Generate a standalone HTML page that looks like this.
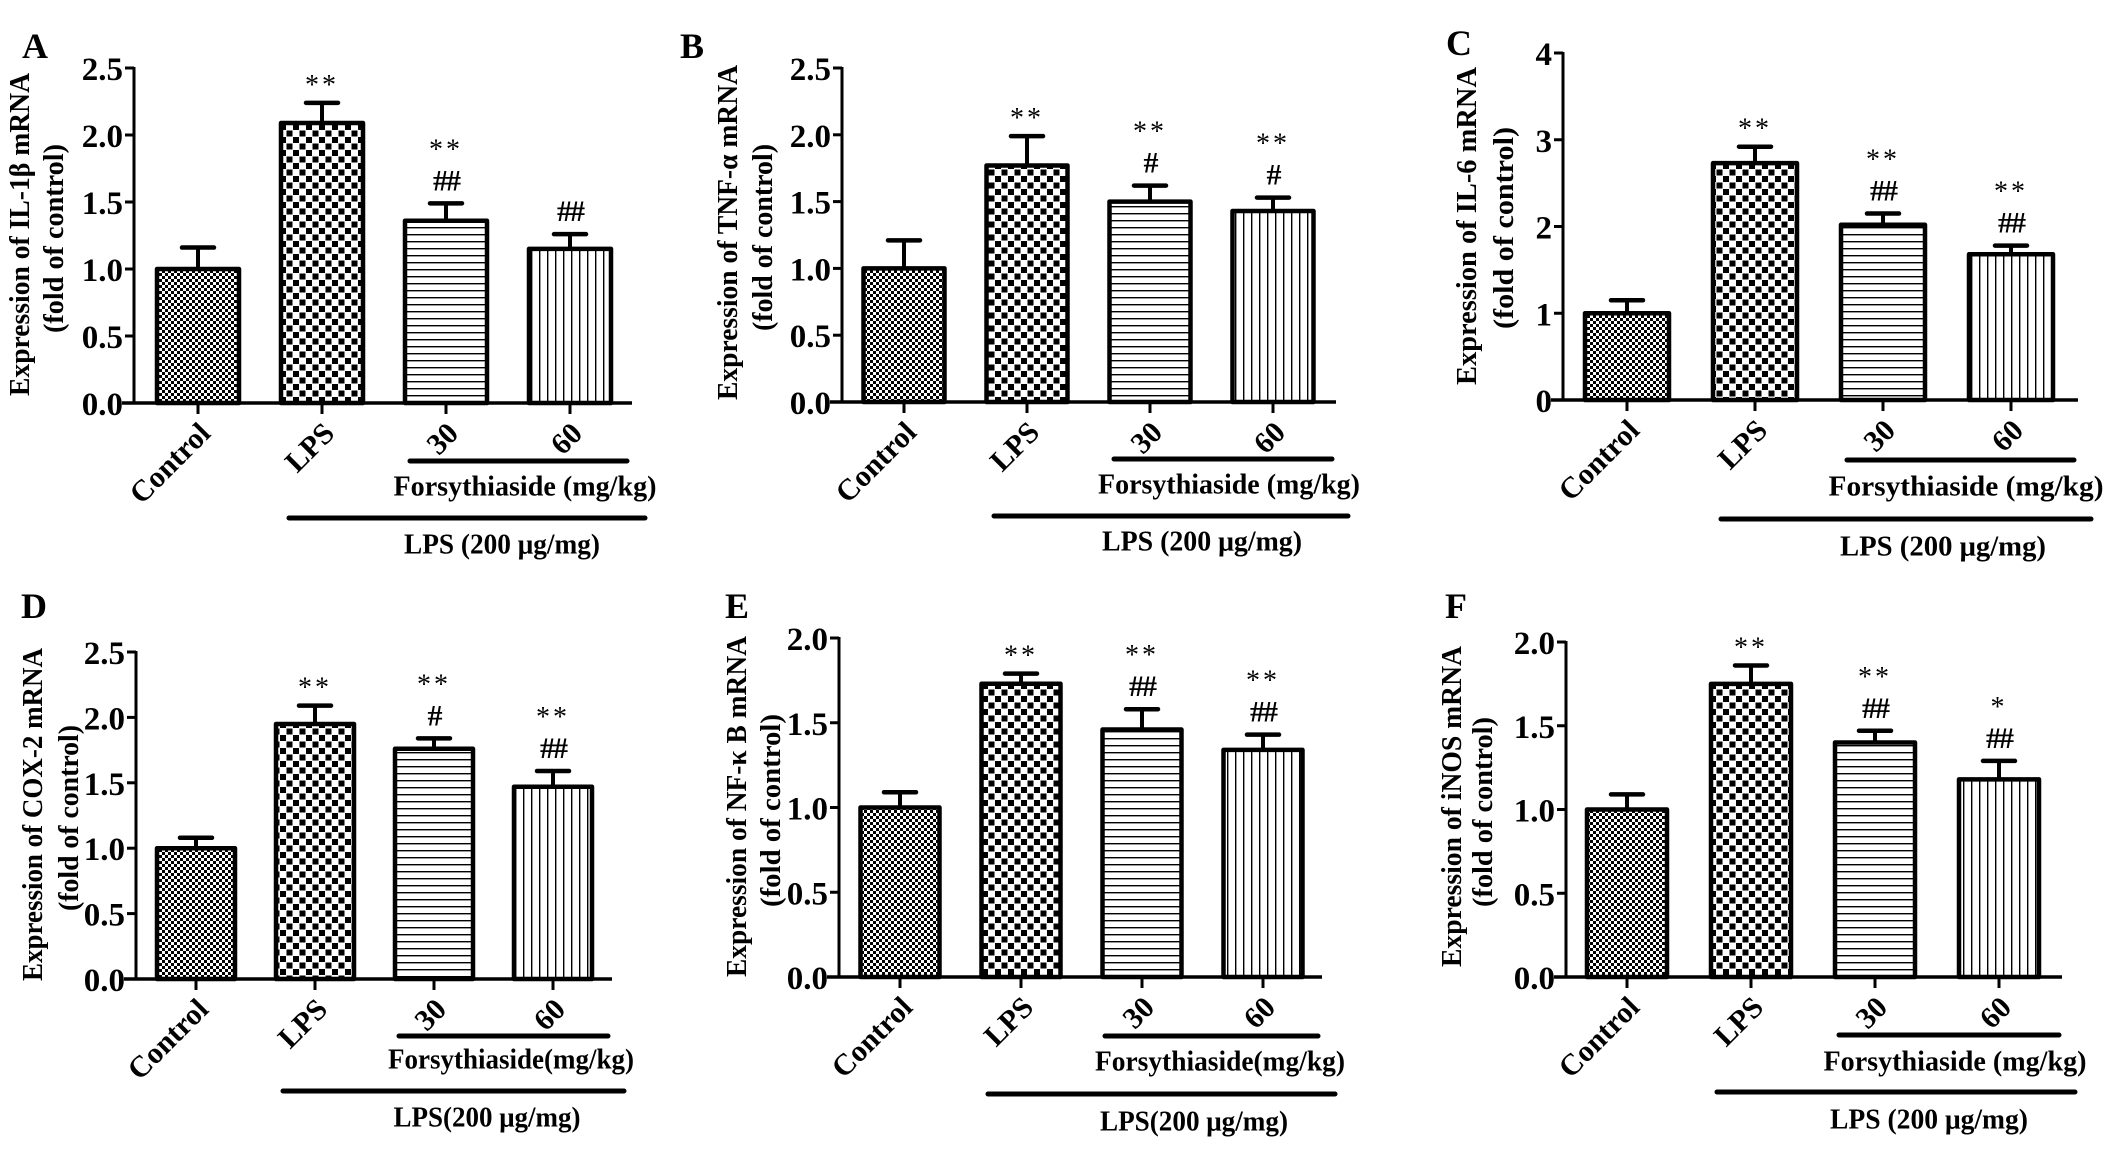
<!DOCTYPE html>
<html><head><meta charset="utf-8">
<style>
html,body{margin:0;padding:0;background:#fff;}
svg{display:block;font-family:"Liberation Serif","DejaVu Serif",serif;font-weight:bold;}
</style></head>
<body>
<svg id="fig" width="2126" height="1170" viewBox="0 0 2126 1170" xmlns="http://www.w3.org/2000/svg">
<defs>
<pattern id="pFine" patternUnits="userSpaceOnUse" width="6" height="6"><rect width="6" height="6" fill="#fff"/><rect width="3" height="3" fill="#000"/><rect x="3" y="3" width="3" height="3" fill="#000"/></pattern>
<pattern id="pCoarse" patternUnits="userSpaceOnUse" width="13" height="13"><rect width="13" height="13" fill="#fff"/><rect x="0.5" y="0.5" width="6" height="6" fill="#000"/><rect x="7" y="7" width="6" height="6" fill="#000"/></pattern>
<pattern id="pH" patternUnits="userSpaceOnUse" width="8" height="7"><rect width="8" height="7" fill="#fff"/><rect y="3" width="8" height="1.4" fill="#000"/></pattern>
<pattern id="pV" patternUnits="userSpaceOnUse" width="8" height="8"><rect width="8" height="8" fill="#fff"/><rect x="3" width="1.4" height="8" fill="#000"/></pattern>
</defs>
</svg>
<script>
const categories = ["Control","LPS","30","60"];
const valuesA = [1.00, 2.09, 1.36, 1.15];
const errorsA = [1.16, 2.24, 1.49, 1.26];
const annotA = [[], ["**"], ["**","##"], ["##"]];
const valuesB = [1.00, 1.77, 1.50, 1.43];
const errorsB = [1.21, 1.99, 1.62, 1.53];
const annotB = [[], ["**"], ["**","#"], ["**","#"]];
const valuesC = [1.00, 2.73, 2.02, 1.68];
const errorsC = [1.15, 2.92, 2.15, 1.78];
const annotC = [[], ["**"], ["**","##"], ["**","##"]];
const valuesD = [1.00, 1.95, 1.76, 1.47];
const errorsD = [1.08, 2.09, 1.84, 1.59];
const annotD = [[], ["**"], ["**","#"], ["**","##"]];
const valuesE = [1.00, 1.73, 1.46, 1.34];
const errorsE = [1.09, 1.79, 1.58, 1.43];
const annotE = [[], ["**"], ["**","##"], ["**","##"]];
const valuesF = [1.00, 1.75, 1.40, 1.18];
const errorsF = [1.09, 1.86, 1.47, 1.29];
const annotF = [[], ["**"], ["**","##"], ["*","##"]];
const ticksA = ["0.0","0.5","1.0","1.5","2.0","2.5"];
const ticksC = ["0","1","2","3","4"];
const ticksE = ["0.0","0.5","1.0","1.5","2.0"];
const ylabA = "Expression of IL-1\u03b2 mRNA";
const ylabB = "Expression of TNF-\u03b1  mRNA";
const ylabC = "Expression of IL-6 mRNA";
const ylabD = "Expression of COX-2 mRNA";
const ylabE = "Expression of NF-\u03ba B mRNA";
const ylabF = "Expression of iNOS mRNA";

const fills = ["url(#pFine)","url(#pCoarse)","url(#pH)","url(#pV)"];
const NS = "http://www.w3.org/2000/svg";
const svg = document.getElementById("fig");
function mk(tag, attrs, parent, txt){
  const e = document.createElementNS(NS, tag);
  for (const k in attrs) e.setAttribute(k, attrs[k]);
  if (txt !== undefined) e.textContent = txt;
  (parent||svg).appendChild(e);
  return e;
}

const panels = [
 {id:"a",letter:"A",lx:22,ly:58,ax:134,y0:403,yt:68,ymax:2.5,ticks:ticksA,xEnd:632,off:64,sp:124,bw:86,vals:valuesA,errs:errorsA,ann:annotA,
  yl:ylabA,yl1x:20,yl1:[73,396],yl2x:54,yl2:[144,333],fl:[461,410,627],ft:[525,487,263],fs:"Forsythiaside (mg/kg)",ll:[518,289,645],lt:[502,545,196],ls:"LPS (200 \u03bcg/mg)"},
 {id:"b",letter:"B",lx:680,ly:58,ax:842,y0:402,yt:68,ymax:2.5,ticks:ticksA,xEnd:1336,off:62,sp:123,bw:85,vals:valuesB,errs:errorsB,ann:annotB,
  yl:ylabB,yl1x:728,yl1:[65,400],yl2x:763,yl2:[144,331],fl:[459,1114,1332],ft:[1229,485,262],fs:"Forsythiaside (mg/kg)",ll:[516,994,1348],lt:[1202,542,200],ls:"LPS (200 \u03bcg/mg)"},
 {id:"c",letter:"C",lx:1446,ly:55,ax:1563,y0:400,yt:53,ymax:4,ticks:ticksC,xEnd:2078,off:64,sp:128,bw:88,vals:valuesC,errs:errorsC,ann:annotC,
  yl:ylabC,yl1x:1467,yl1:[67,385],yl2x:1504,yl2:[127,329],fl:[460,1847,2074],ft:[1966,487,275],fs:"Forsythiaside (mg/kg)",ll:[519,1721,2091],lt:[1943,547,206],ls:"LPS (200 \u03bcg/mg)"},
 {id:"d",letter:"D",lx:21,ly:618,ax:136,y0:979,yt:652,ymax:2.5,ticks:ticksA,xEnd:612,off:60,sp:119,bw:82,vals:valuesD,errs:errorsD,ann:annotD,
  yl:ylabD,yl1x:33,yl1:[648,981],yl2x:69,yl2:[725,911],fl:[1036,399,608],ft:[511,1060,246],fs:"Forsythiaside(mg/kg)",ll:[1091,283,624],lt:[487,1118,187],ls:"LPS(200 \u03bcg/mg)"},
 {id:"e",letter:"E",lx:725,ly:618,ax:839,y0:977,yt:638,ymax:2.0,ticks:ticksE,xEnd:1322,off:61,sp:121,bw:83,vals:valuesE,errs:errorsE,ann:annotE,
  yl:ylabE,yl1x:737,yl1:[636,977],yl2x:771,yl2:[714,907],fl:[1036,1105,1318],ft:[1220,1062,250],fs:"Forsythiaside(mg/kg)",ll:[1094,988,1335],lt:[1194,1122,188],ls:"LPS(200 \u03bcg/mg)"},
 {id:"f",letter:"F",lx:1445,ly:618,ax:1566,y0:977,yt:642,ymax:2.0,ticks:ticksE,xEnd:2062,off:61,sp:124,bw:84,vals:valuesF,errs:errorsF,ann:annotF,
  yl:ylabF,yl1x:1452,yl1:[646,967],yl2x:1483,yl2:[717,907],fl:[1035,1839,2059],ft:[1955,1062,263],fs:"Forsythiaside (mg/kg)",ll:[1092,1717,2075],lt:[1929,1120,198],ls:"LPS (200 \u03bcg/mg)"}
];

panels.forEach(p=>{
  const g = mk("g",{});
  
  
  const yScale = v => p.y0 - (v/p.ymax)*(p.y0-p.yt);
  const xScale = i => p.ax + p.off + i*p.sp;
  const L = mk("text",{x:p.lx,y:p.ly,"font-size":36},g,p.letter);
  
  
  const ya = mk("line",{x1:p.ax,y1:p.yt-1,x2:p.ax,y2:p.y0,stroke:"#000","stroke-width":3},g);
  
  
  p.ticks.forEach((t,i)=>{
    const v = p.ymax*i/(p.ticks.length-1);
    const y = yScale(v);
    const tk = mk("line",{x1:p.ax-9,y1:y,x2:p.ax,y2:y,stroke:"#000","stroke-width":3},g);
    
    
    const tl = mk("text",{x:p.ax-11,y:y+12,"font-size":33,"text-anchor":"end"},g,t);
    
    
  });
  const c1 = (p.yl1[0]+p.yl1[1])/2, c2=(p.yl2[0]+p.yl2[1])/2;
  const t1 = mk("text",{x:0,y:0,"font-size":29,"text-anchor":"middle","dominant-baseline":"central",textLength:p.yl1[1]-p.yl1[0],lengthAdjust:"spacingAndGlyphs",transform:`translate(${p.yl1x},${c1}) rotate(-90)`},g,p.yl);
  
  
  const t2 = mk("text",{x:0,y:0,"font-size":29,"text-anchor":"middle","dominant-baseline":"central",textLength:p.yl2[1]-p.yl2[0],lengthAdjust:"spacingAndGlyphs",transform:`translate(${p.yl2x},${c2}) rotate(-90)`},g,"(fold of control)");
  
  
  p.vals.forEach((v,i)=>{
    const cx = xScale(i), top = yScale(v), et = yScale(p.errs[i]);
    const eb = mk("line",{x1:cx,y1:et,x2:cx,y2:top,stroke:"#000","stroke-width":4},g);
    
    
    const cap = mk("line",{x1:cx-16,y1:et,x2:cx+16,y2:et,stroke:"#000","stroke-width":4.5,"stroke-linecap":"round"},g);
    
    
    const r = mk("rect",{x:cx-p.bw/2+2,y:top,width:p.bw-4,height:p.y0-top,fill:fills[i],stroke:"#000","stroke-width":4.5,"stroke-linejoin":"round"},g);
    
    
    p.ann[i].forEach((s,k)=>{
      const n = p.ann[i].length;
      const yy = et - 24 - (n-1-k)*36;
      const isStar = s.indexOf("*")>=0;
      const a = mk("text",{x:cx,y:isStar?yy+15:yy+11,"font-size":isStar?28:30,"font-weight":isStar?"normal":"bold","text-anchor":"middle",
        "letter-spacing":isStar?3:-2},g,s);
      
      
    });
    const xt = mk("line",{x1:cx,y1:p.y0,x2:cx,y2:p.y0+11,stroke:"#000","stroke-width":3},g);
    
    
    const xl = mk("text",{x:0,y:0,"font-size":30,"text-anchor":"end",transform:`translate(${cx+14},${p.y0+32}) rotate(-45)`},g,categories[i]);
    
    
  });
  const xa = mk("line",{x1:p.ax-12,y1:p.y0,x2:p.xEnd,y2:p.y0,stroke:"#000","stroke-width":3.5},g);
  
  
  const fl = mk("line",{x1:p.fl[1],y1:p.fl[0],x2:p.fl[2],y2:p.fl[0],stroke:"#000","stroke-width":5,"stroke-linecap":"round"},g);
  
  
  const ft = mk("text",{x:p.ft[0],y:p.ft[1],"font-size":28,"text-anchor":"middle","dominant-baseline":"central",textLength:p.ft[2],lengthAdjust:"spacingAndGlyphs"},g,p.fs);
  
  
  const ll = mk("line",{x1:p.ll[1],y1:p.ll[0],x2:p.ll[2],y2:p.ll[0],stroke:"#000","stroke-width":5,"stroke-linecap":"round"},g);
  
  
  const lt = mk("text",{x:p.lt[0],y:p.lt[1],"font-size":28,"text-anchor":"middle","dominant-baseline":"central",textLength:p.lt[2],lengthAdjust:"spacingAndGlyphs"},g,p.ls);
  
  
});
</script>
</body></html>
